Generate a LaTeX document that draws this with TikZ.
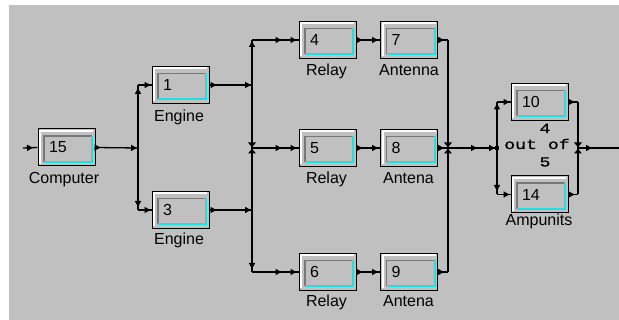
\documentclass[tikz,border=0pt]{standalone}
\usepackage{fontspec}
\setmainfont{Liberation Sans}
\newfontfamily\kmono[FakeStretch=1.3,FakeBold=1]{Liberation Mono}
\usetikzlibrary{arrows.meta,decorations.markings}
\definecolor{bg}{RGB}{192,192,192}
\definecolor{dgray}{RGB}{120,120,120}
\definecolor{cy}{RGB}{32,224,224}
\begin{document}
\begin{tikzpicture}[x=1pt,y=-1pt,
  tri/.tip={Triangle[length=6pt,width=6pt]},
  hg/.tip={Triangle[length=4.5pt,width=8pt]},
  blk/.style={draw=black,line width=1pt,fill=bg,minimum width=57pt,minimum height=37pt,
    inner sep=0pt,text width=35pt,align=left,font=\fontsize{16}{18}\selectfont,
    path picture={
      \draw[white,line width=2pt] ([xshift=2pt,yshift=2pt]path picture bounding box.south west)
        |- ([xshift=-2pt,yshift=-2pt]path picture bounding box.north east);
      \draw[dgray,line width=1.3pt] ([xshift=6pt,yshift=4pt]path picture bounding box.south west)
        |- ([xshift=-3pt,yshift=-7pt]path picture bounding box.north east);
      \draw[cy,line width=2pt] ([xshift=6pt,yshift=4pt]path picture bounding box.south west)
        -| ([xshift=-3pt,yshift=-7pt]path picture bounding box.north east);
    }},
  lab/.style={anchor=base,inner sep=0pt,font=\fontsize{16}{18}\selectfont},
  kn/.style={anchor=base,inner sep=0pt,font=\kmono\fontsize{14}{16}\selectfont},
  con/.style={draw=black,line width=1.3pt},
  am/.style={postaction={decorate,decoration={markings,mark=at position #1 with {\arrow{tri}}}}},
  amr/.style={postaction={decorate,decoration={markings,mark=at position #1 with {\arrowreversed{hg}}}}},
]
\useasboundingbox (0,0) rectangle (619,320);
\fill[white] (0,0) rectangle (619,320);
\fill[bg] (9,5) rectangle (619,320);

% boxes
\node[blk] (b15) at (66.5,147.5) {15};
\node[blk] (b1) at (180.5,85) {1};
\node[blk] (b3) at (180.5,210) {3};
\node[blk] (b4) at (327.5,40) {4};
\node[blk] (b7) at (409,40) {7};
\node[blk] (b5) at (327.5,148) {5};
\node[blk] (b8) at (409,148) {8};
\node[blk] (b6) at (327.5,272) {6};
\node[blk] (b9) at (409,272) {9};
\node[blk] (b10) at (539.5,102) {10};
\node[blk] (b14) at (539.5,194.5) {14};

% labels
\node[lab] (l15) at (64,184) {Computer};
\node[lab] (l1) at (179,122) {Engine};
\node[lab] (l3) at (179,245) {Engine};
\node[lab] (l4) at (326.5,76) {Relay};
\node[lab] (l7) at (409,76) {Antenna};
\node[lab] (l5) at (326.5,184) {Relay};
\node[lab] (l8) at (408.5,184) {Antena};
\node[lab] (l6) at (326.5,306.5) {Relay};
\node[lab] (l9) at (408.5,306.5) {Antena};
\node[lab] (l14) at (539,226) {Ampunits};
\node[kn] (k1) at (545,133) {4};
\node[kn] (k2) at (537,149) {out of};
\node[kn] (k3) at (545,166.5) {5};

% junction coordinates
\coordinate (in) at (23,148);
\coordinate (j1m) at (138,148);
\coordinate (j1t) at (138,85);
\coordinate (j1b) at (138,210);
\coordinate (j2t) at (252,40);
\coordinate (j2a) at (252,85);
\coordinate (j2m) at (252,148);
\coordinate (j2c) at (252,210);
\coordinate (j2b) at (252,272);
\coordinate (j3t) at (448,40);
\coordinate (j3m) at (448,148);
\coordinate (j3b) at (448,272);
\coordinate (j4t) at (497,102);
\coordinate (j4m) at (497,148);
\coordinate (j4b) at (497,194.5);
\coordinate (j5t) at (578,102);
\coordinate (j5m) at (578,148);
\coordinate (j5b) at (578,194.5);
\coordinate (out) at (619,148);

% connectors
\draw[con,am=10pt] (in) -- (b15.west);
\draw[con,am=5pt,am=-1pt] (b15.east) -- (j1m);
\draw[con,am=-3pt] (j1m) -- (j1t);
\draw[con,am=-3pt] (j1m) -- (j1b);
\draw[con,am=-1pt] (j1t) -- (b1.west);
\draw[con,am=-1pt] (j1b) -- (b3.west);
\draw[con,am=7pt,am=-1pt] (b1.east) -- (j2a);
\draw[con,am=7pt,am=-1pt] (b3.east) -- (j2c);
\draw[con,amr=1pt,am=-1pt] (j2m) -- (j2t);
\draw[con,amr=1pt,am=-3pt] (j2m) -- (j2b);
\draw[con,am=-17pt,am=-2pt] (j2t) -- (b4.west);
\draw[con,am=-17pt,am=-2pt] (j2m) -- (b5.west);
\draw[con,am=-17pt,am=-2pt] (j2b) -- (b6.west);
\draw[con,am=6pt,am=-2pt] (b4.east) -- (b7.west);
\draw[con,am=6pt,am=-2pt] (b5.east) -- (b8.west);
\draw[con,am=6pt,am=-2pt] (b6.east) -- (b9.west);
\draw[con,am=6pt] (b7.east) -- (j3t);
\draw[con,am=6pt] (b8.east) -- (j3m);
\draw[con,am=6pt] (b9.east) -- (j3b);
\draw[con,amr=1pt] (j3m) -- (j3t);
\draw[con,amr=1pt] (j3m) -- (j3b);
\draw[con,am=-20pt,am=-2pt] (j3m) -- (j4m);
\draw[con,am=-1.5pt] (j4m) -- (j4t);
\draw[con,am=-3.5pt] (j4m) -- (j4b);
\draw[con,am=-1pt] (j4t) -- (b10.west);
\draw[con,am=-1pt] (j4b) -- (b14.west);
\node[fill=black,minimum size=4pt,inner sep=0pt] (jd) at (j4m) {};
\draw[con,am=6pt] (b10.east) -- (j5t);
\draw[con,am=6pt] (b14.east) -- (j5b);
\draw[con,amr=1pt] (j5m) -- (j5t);
\draw[con,amr=1pt] (j5m) -- (j5b);
\draw[con,am=14pt] (j5m) -- (out);
\end{tikzpicture}
\end{document}
